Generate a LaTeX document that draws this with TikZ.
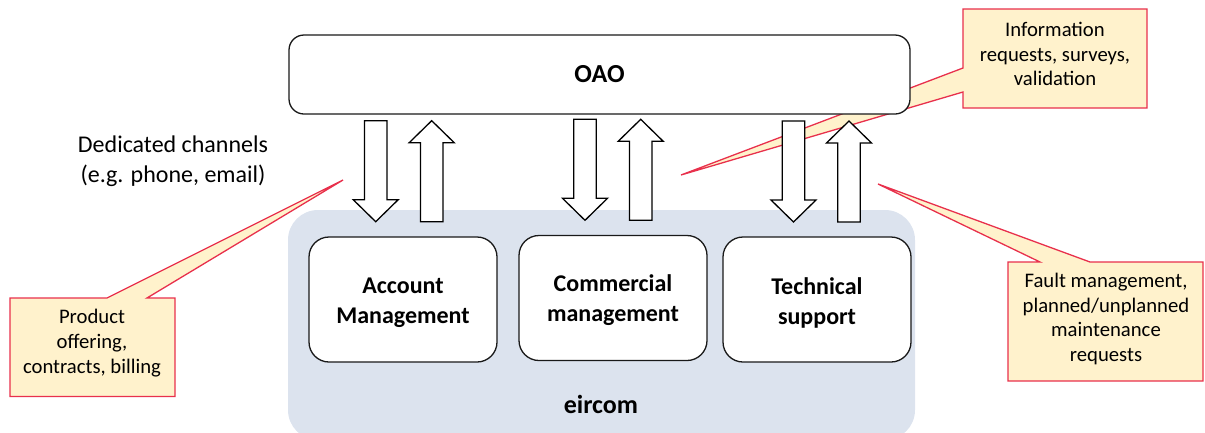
\documentclass[tikz,border=0pt]{standalone}
\usepackage{fontspec}
\setmainfont{Carlito}
\usetikzlibrary{calc}
\definecolor{bgblue}{HTML}{DCE3EE}
\definecolor{cfill}{HTML}{FFF2CC}
\definecolor{cred}{HTML}{E8304C}
\begin{document}
\begin{tikzpicture}[x=1pt,y=-1pt,
  boxstyle/.style={draw=black!90, line width=1.3pt, fill=white, rounded corners=20pt,
    minimum width=188pt, minimum height=125pt, inner sep=0pt},
  boxtext/.style={align=center, inner sep=0pt, font=\bfseries\fontsize{24}{30}\selectfont},
  blockarrow/.style={draw=black, line width=1.3pt, fill=white, line join=miter},
  callout/.style={draw=cred, line width=1.3pt, fill=cfill, line join=miter},
  callouttext/.style={align=center, font=\fontsize{20.7}{24.8}\selectfont, inner sep=0pt},
  dnarrow/.pic={\draw[blockarrow] (-11.25,0) -- (11.25,0) -- (11.25,79) -- (22.5,79) -- (0,101) -- (-22.5,79) -- (-11.25,79) -- cycle;},
  uparrow/.pic={\draw[blockarrow] (0,0) -- (22.5,22) -- (11.25,22) -- (11.25,101) -- (-11.25,101) -- (-11.25,22) -- (-22.5,22) -- cycle;}
]
\useasboundingbox (0,0) rectangle (1205,432);
\clip (0,0) rectangle (1205,432);

% eircom background
\node[fill=bgblue, rounded corners=30pt, minimum width=627pt, minimum height=230pt, inner sep=0pt] (eircombg) at (601.5,325) {};
\node[font=\bfseries\fontsize{26}{30}\selectfont] (eircom) at (601,404) {eircom};

% callouts
\coordinate (tip1) at (343,180);
\coordinate (tip2) at (681,175);
\coordinate (tip3) at (878,184);
\draw[callout] (10,298) -- (107,298) -- (tip1) -- (147,298) -- (175,298) -- (175,396.5) -- (10,396.5) -- cycle;
\draw[callout] (963,9) -- (1147,9) -- (1147,108) -- (963,108) -- (963,92) -- (tip2) -- (963,68) -- cycle;
\draw[callout] (1008,262) -- (1040,262) -- (tip3) -- (1090,262) -- (1203,262) -- (1203,381) -- (1008,381) -- cycle;

% OAO
\node[draw=black!90, line width=1.3pt, fill=white, rounded corners=15pt, minimum width=621pt, minimum height=79pt, inner sep=0pt, font=\bfseries\fontsize{26}{30}\selectfont] (oao) at (599.5,74.5) {OAO};

% inner boxes
\node[boxstyle] (acc) at (403,299.5) {};
\node[boxstyle] (com) at (613,298) {};
\node[boxstyle] (tech) at (817,299.5) {};
\node[boxtext] (acct) at (403,302.5) {Account\\Management};
\node[boxtext] (comt) at (613,300.5) {Commercial\\management};
\node[boxtext] (techt) at (817,302.5) {Technical\\support};

% block arrows
\pic at (375.7,120.7) {dnarrow};
\pic at (431.7,120.7) {uparrow};
\pic at (585,119.3) {dnarrow};
\pic at (640.7,119.3) {uparrow};
\pic at (793.5,121) {dnarrow};
\pic at (849,121) {uparrow};

% dedicated channels text
\node[align=center, font=\fontsize{24}{30}\selectfont, inner sep=0pt] (dedic) at (173,161) {Dedicated channels\\(e.g. phone, email)};

\node[callouttext] (c1) at (92,343) {Product\\offering,\\contracts, billing};
\node[callouttext] (c2) at (1055,54) {Information\\requests, surveys,\\validation};
\node[callouttext] (c3) at (1106,319) {Fault management,\\planned/unplanned\\maintenance\\requests};
\end{tikzpicture}
\end{document}
